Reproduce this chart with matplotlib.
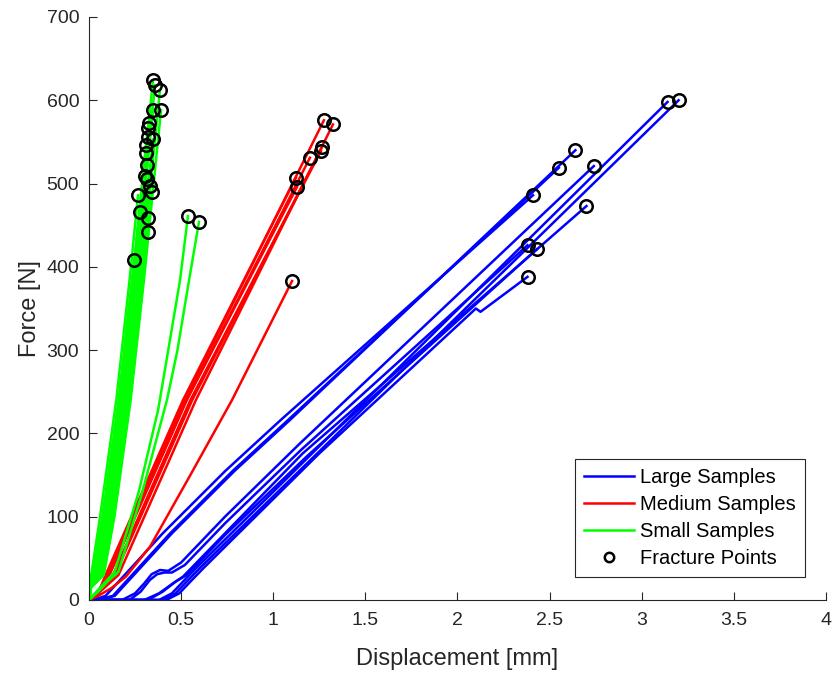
import matplotlib
matplotlib.use("Agg")
import matplotlib.pyplot as plt

# Large samples: displacement [mm] / force [N], last point = fracture
large_x = [
    [0, 0.05, 0.09, 0.40, 0.74, 1.04, 2.41],
    [0, 0.08, 0.13, 0.44, 0.78, 1.08, 2.55],
    [0, 0.09, 0.14, 0.45, 0.79, 1.09, 2.64],
    [0, 0.40, 0.47, 0.53, 0.60, 3.20],
    [0, 0.38, 0.45, 0.51, 0.58, 3.14],
    [0, 0.42, 0.49, 0.55, 0.62, 1.25, 2.10, 2.125, 2.38],
    [0, 0.18, 0.25, 0.30, 0.34, 0.385, 0.43, 0.50, 0.738, 1.145, 2.74],
    [0, 0.22, 0.28, 0.33, 0.37, 0.41, 0.45, 0.52, 0.738, 1.15, 2.38],
    [0, 0.30, 0.38, 0.456, 0.51, 0.738, 1.16, 2.10, 2.70],
    [0, 0.32, 0.40, 0.47, 0.53, 0.738, 1.18, 2.43],
]
large_f = [
    [0, 2, 5, 80, 155, 216, 486],
    [0, 2, 5, 80, 155, 216, 519],
    [0, 2, 5, 80, 155, 216, 540],
    [0, 0, 8, 22, 38, 600],
    [0, 0, 8, 22, 38, 598],
    [0, 0, 8, 22, 38, 176, 350, 346, 388],
    [0, 0, 8, 20, 31, 36, 35, 45, 100, 188, 521],
    [0, 0, 10, 24, 31, 33, 33, 42, 92, 180, 426],
    [0, 0, 8, 20, 28, 80, 176, 357, 473],
    [0, 0, 10, 22, 30, 78, 172, 421],
]

medium_x = [
    [0, 0.03, 0.06, 0.10, 0.52, 1.275],
    [0, 0.04, 0.08, 0.16, 0.58, 1.324],
    [0, 0.04, 0.07, 0.14, 0.56, 1.265],
    [0, 0.03, 0.07, 0.13, 0.55, 1.259],
    [0, 0.03, 0.06, 0.11, 0.53, 1.199],
    [0, 0.03, 0.06, 0.09, 0.51, 1.123],
    [0, 0.03, 0.07, 0.11, 0.53, 1.129],
    [0, 0.05, 0.12, 0.20, 0.331, 0.55, 0.776, 1.102],
]
medium_f = [
    [0, 6, 14, 30, 240, 576],
    [0, 6, 14, 30, 240, 571],
    [0, 6, 14, 30, 240, 544],
    [0, 6, 14, 30, 240, 539],
    [0, 6, 14, 30, 240, 531],
    [0, 6, 14, 30, 240, 507],
    [0, 6, 14, 30, 240, 496],
    [0, 5, 14, 28, 64, 150, 240, 383],
]

small_x = [
    [0, 0.01, 0.020, 0.078, 0.166, 0.238, 0.347],
    [0, 0.01, 0.034, 0.092, 0.180, 0.252, 0.358],
    [0, 0.01, 0.063, 0.121, 0.209, 0.281, 0.385],
    [0, 0.01, 0.036, 0.094, 0.182, 0.254, 0.347],
    [0, 0.01, 0.080, 0.138, 0.226, 0.298, 0.391],
    [0, 0.01, 0.022, 0.080, 0.168, 0.240, 0.326],
    [0, 0.01, 0.024, 0.082, 0.170, 0.242, 0.320],
    [0, 0.01, 0.052, 0.110, 0.198, 0.270, 0.347],
    [0, 0.01, 0.021, 0.079, 0.167, 0.239, 0.309],
    [0, 0.01, 0.029, 0.087, 0.175, 0.247, 0.304],
    [0, 0.01, 0.042, 0.100, 0.188, 0.260, 0.315],
    [0, 0.01, 0.062, 0.120, 0.208, 0.280, 0.331],
    [0, 0.01, 0.076, 0.134, 0.222, 0.294, 0.342],
    [0, 0.01, 0.012, 0.060, 0.148, 0.220, 0.266],
    [0, 0.01, 0.022, 0.080, 0.168, 0.240, 0.277],
    [0, 0.01, 0.068, 0.126, 0.214, 0.286, 0.320],
    [0, 0.01, 0.076, 0.134, 0.222, 0.294, 0.320],
    [0, 0.01, 0.015, 0.073, 0.161, 0.233, 0.244],
    [0, 0.01, 0.019, 0.077, 0.165, 0.237, 0.320],
    [0, 0.01, 0.034, 0.092, 0.180, 0.252, 0.315],
    [0, 0.01, 0.017, 0.075, 0.163, 0.235, 0.309],
    [0, 0.04, 0.09, 0.14, 0.27, 0.375, 0.43, 0.494, 0.537],
    [0, 0.05, 0.10, 0.16, 0.29, 0.423, 0.48, 0.543, 0.597],
]
small_f = [
    [0, 15, 30, 100, 240, 384, 624],
    [0, 15, 30, 100, 240, 384, 618],
    [0, 15, 30, 100, 240, 384, 612],
    [0, 15, 30, 100, 240, 384, 588],
    [0, 15, 30, 100, 240, 384, 588],
    [0, 15, 30, 100, 240, 384, 573],
    [0, 15, 30, 100, 240, 384, 556],
    [0, 15, 30, 100, 240, 384, 553],
    [0, 15, 30, 100, 240, 384, 537],
    [0, 15, 30, 100, 240, 384, 509],
    [0, 15, 30, 100, 240, 384, 505],
    [0, 15, 30, 100, 240, 384, 497],
    [0, 15, 30, 100, 240, 384, 490],
    [0, 15, 30, 100, 240, 384, 486],
    [0, 15, 30, 100, 240, 384, 466],
    [0, 15, 30, 100, 240, 384, 459],
    [0, 15, 30, 100, 240, 384, 442],
    [0, 15, 30, 100, 240, 384, 408],
    [0, 15, 30, 100, 240, 384, 567],
    [0, 15, 30, 100, 240, 384, 522],
    [0, 15, 30, 100, 240, 384, 546],
    [0, 10, 22, 34, 130, 228, 300, 384, 461],
    [0, 10, 22, 34, 130, 240, 300, 384, 454],
]

plt.rcParams["font.family"] = ["Liberation Sans", "DejaVu Sans"]
AX_COLOR = "#262626"

fig = plt.figure(figsize=(8.35, 6.74), dpi=100)
ax = fig.add_axes([0.1066, 0.1098, 0.8826, 0.865])

groups = [
    (large_x, large_f, "#0000ff", "Large Samples"),
    (medium_x, medium_f, "#ff0000", "Medium Samples"),
    (small_x, small_f, "#00ff00", "Small Samples"),
]
ends_x, ends_f = [], []
for xs_list, fs_list, color, label in groups:
    for i, (xs, fs) in enumerate(zip(xs_list, fs_list)):
        ax.plot(xs, fs, color=color, linewidth=1.8,
                label=label if i == 0 else None, solid_joinstyle="round")
        ends_x.append(xs[-1])
        ends_f.append(fs[-1])

ax.plot(ends_x, ends_f, linestyle="none", marker="o", markersize=9,
        markerfacecolor="none", markeredgecolor="black", markeredgewidth=1.8,
        label="Fracture Points")

ax.set_xlim(0, 4)
ax.set_ylim(0, 700)
ax.set_xticks([0, 0.5, 1, 1.5, 2, 2.5, 3, 3.5, 4])
ax.set_xticklabels(["0", "0.5", "1", "1.5", "2", "2.5", "3", "3.5", "4"])
ax.set_yticks(range(0, 701, 100))
ax.spines["top"].set_visible(False)
ax.spines["right"].set_visible(False)
for side in ("left", "bottom"):
    ax.spines[side].set_color(AX_COLOR)
    ax.spines[side].set_linewidth(0.8)
ax.tick_params(direction="in", length=5.5, width=0.8, colors=AX_COLOR,
               labelsize=14)
ax.tick_params(axis="x", pad=8.5)
ax.tick_params(axis="y", pad=7)
ax.set_xlabel("Displacement [mm]", fontsize=17, color=AX_COLOR, labelpad=14)
ax.set_ylabel("Force [N]", fontsize=17, color=AX_COLOR, labelpad=4)

leg = ax.legend(loc="lower right", bbox_to_anchor=(0.9715, 0.039),
                fontsize=14.5, frameon=True, fancybox=False, framealpha=1,
                edgecolor=AX_COLOR, handlelength=2.5, handletextpad=0.3,
                borderpad=0.45, labelspacing=0.4, borderaxespad=0,
                markerscale=0.75)
leg.get_frame().set_linewidth(0.8)

fig.savefig("out.png", dpi=100)
